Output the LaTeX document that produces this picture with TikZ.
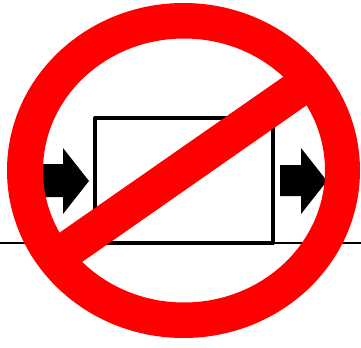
\documentclass[tikz,border=0pt]{standalone}
\tikzset{
  wire/.style={draw=black,line width=2pt},
  boxline/.style={draw=black,line width=3.1pt,line join=round},
  flow/.style={fill=black},
  forbid/.style={fill=red}
}
\begin{document}
\begin{tikzpicture}[x=0.75pt,y=-0.75pt]
\useasboundingbox (0,0) rectangle (361,347);
% base line
\draw[wire] (0,243) -- (95,243);
\draw[wire] (273,243) -- (361,243);
% box
\draw[boxline] (95,118) rectangle (273,243);
% arrows
\fill[flow] (30,164) -- (63,164) -- (63,148) -- (89,181) -- (63,214) -- (63,197) -- (30,197) -- cycle;
\fill[flow] (280,165) -- (301,165) -- (301,148) -- (327,181) -- (301,214) -- (301,196) -- (280,196) -- cycle;
% prohibition sign
\fill[forbid,even odd rule] (183.5,170.5) ellipse [x radius=176.5,y radius=167.5]
  (184,170.5) ellipse [x radius=141,y radius=132];
\fill[forbid] (51,238.6) -- (291,71.4) -- (315,99.4) -- (74,267.6) -- cycle;
\end{tikzpicture}
\end{document}
